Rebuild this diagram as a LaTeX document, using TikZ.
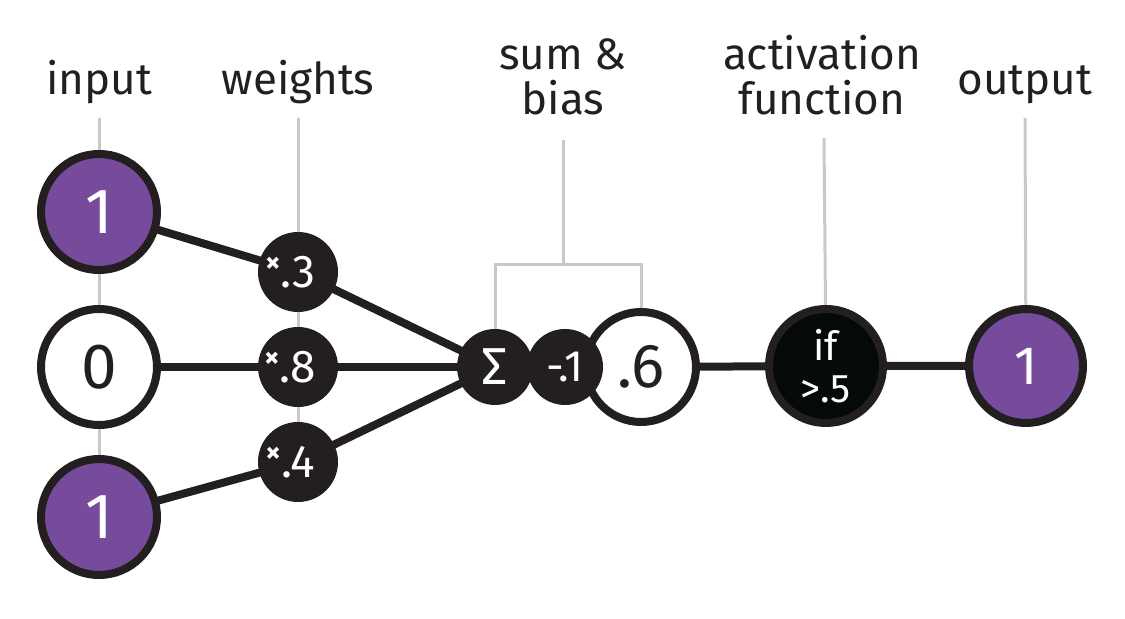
\documentclass[tikz,border=0pt]{standalone}
\usepackage{fontspec}
\setmainfont{Fira Sans}
\definecolor{ink}{HTML}{231F20}
\definecolor{purp}{HTML}{764B9B}
\definecolor{rule}{HTML}{C9C9C9}
\definecolor{coal}{HTML}{050909}
\pgfdeclarelayer{background}
\pgfsetlayers{background,main}
\tikzset{neuron/.style={circle, draw=ink, line width=4pt, inner sep=0pt, minimum size=58pt}}
\tikzset{wt/.style={circle, fill=ink, text=white, inner sep=0pt, minimum size=40pt, font=\fontsize{23}{23}\selectfont}}
\newcommand{\wlabel}[1]{\llap{\raisebox{7.5pt}{\fontsize{15}{15}\selectfont\bfseries ×}}.#1}

\begin{document}
\begin{tikzpicture}[x=0.5pt, y=-0.5pt]
\tikzstyle{every node}=[text=ink]
\tikzstyle{lbl}=[anchor=base, align=center, font=\fontsize{22}{22.5}\selectfont]
\tikzstyle{hot}=[neuron, fill=purp, text=white, font=\fontsize{32}{32}\selectfont]
\tikzstyle{cold}=[neuron, fill=white, font=\fontsize{32}{32}\selectfont]
\tikzstyle{op}=[circle, fill=ink, text=white, inner sep=0pt, minimum size=38pt]
\tikzstyle{link}=[draw=ink, line width=4pt]
\tikzstyle{guide}=[draw=rule, line width=1.5pt]
\useasboundingbox (0,0) rectangle (1125,619);
\node[lbl] (lin) at (99,95) {input};
\node[lbl] (lw) at (298,95) {weights};
\node[lbl] (lsb) at (563,115) {sum \&\\bias};
\node[lbl] (lact) at (822,115) {activation\\function};
\node[lbl] (lout) at (1025,95) {output};
\coordinate (gin) at (99,118);
\coordinate (gw) at (298,118);
\coordinate (gsb) at (563,140);
\coordinate (brk) at (563,265);
\coordinate (gact) at (824,138);
\coordinate (gout) at (1025,118);
\node[hot] (in1) at (99,212) {1};
\node[cold] (in2) at (99,367) {0};
\node[hot] (in3) at (99,517) {1};
\node[wt] (w1) at (298,272) {\wlabel{3}};
\node[wt] (w2) at (298,367) {\wlabel{8}};
\node[wt] (w3) at (298,462) {\wlabel{4}};
\node[neuron, fill=white, minimum size=55pt, font=\fontsize{31}{31}\selectfont] (res) at (641,367) {.6};
\node[op, font=\fontsize{26}{26}\selectfont] (sum) at (495,367) {Σ};
\node[op, font=\fontsize{22}{22}\selectfont] (bias) at (565,367) {-\kern-2.5pt.1};
\node[neuron, fill=coal, text=white, minimum size=57pt, align=center, font=\fontsize{20}{21}\selectfont] (act) at (826,366) {if\\>.5};
\node[neuron, fill=purp, text=white, minimum size=57pt, font=\fontsize{27}{27}\selectfont] (out) at (1026,366) {1};
\begin{pgfonlayer}{background}
\draw[guide] (gin) -- (in3.center);
\draw[guide] (gw) -- (w3.center);
\draw[guide] (gsb) -- (brk);
\draw[guide] (sum.center) |- (brk) -| (res.center);
\draw[guide] (gact) -- (act.center);
\draw[guide] (gout) -- (out.center);
\draw[link] (in1.center) -- (w1.center) -- (sum.center);
\draw[link] (in2.center) -- (w2.center) -- (sum.center);
\draw[link] (in3.center) -- (w3.center) -- (sum.center);
\draw[link] (res.center) -- (act.center) -- (out.center);
\end{pgfonlayer}
\end{tikzpicture}
\end{document}
